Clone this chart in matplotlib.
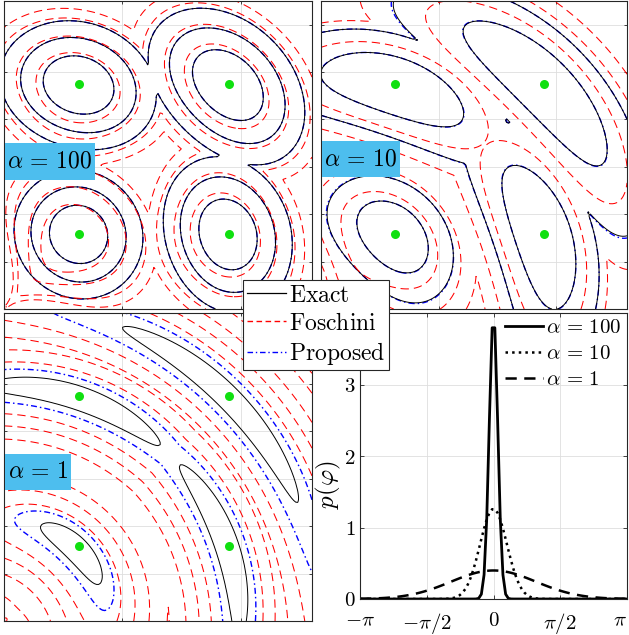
import numpy as np
import matplotlib

matplotlib.use("Agg")
import matplotlib.pyplot as plt
from matplotlib.lines import Line2D
from matplotlib.patches import Rectangle

plt.rcParams["mathtext.fontset"] = "cm"
plt.rcParams["font.family"] = "DejaVu Serif"
plt.rcParams["xtick.direction"] = "in"
plt.rcParams["ytick.direction"] = "in"

# 16-QAM (unit energy), first-quadrant points shown in the panels
qam_amp = np.array([-3, -1, 1, 3]) / np.sqrt(10)
pts_x = np.array([1, 3, 1, 3]) / np.sqrt(10)
pts_y = np.array([3, 3, 1, 1]) / np.sqrt(10)
snr_db = 15.0
alphas = [100, 10, 1]
panel_labels = [r"$\alpha\,=\,100$", r"$\alpha\,=\,10$", r"$\alpha\,=\,1$"]

# contour levels: log-likelihood relative to each point's peak
levels_exact = {100: [-2.2, -1.2, -0.45], 10: [-1.4, -0.45], 1: [-0.08]}
levels_fosch = {
    100: [-3.3, -2.55, -1.4, -0.65],
    10: [-3.0, -2.0, -0.9],
    1: [-3.6, -2.6, -1.5, -0.85, -0.42],
}
levels_prop = {100: [-2.2, -1.2, -0.45], 10: [-1.4, -0.45], 1: [-0.2]}

# phase-noise pdf panel
n_phi = 100
pdf_styles = {100: "-", 10: ":", 1: (0, (4.5, 3))}

N0 = 10 ** (-snr_db / 10)
const = (qam_amp[:, None] + 1j * qam_amp[None, :]).ravel()
g = np.linspace(0, 1.3, 151)
X, Y = np.meshgrid(g, g)
Yc = X + 1j * Y


def logp_exact(y, c, alpha):
    lim = min(np.pi, 6 / np.sqrt(alpha))
    phi = np.linspace(-lim, lim, 201)
    lw = -alpha * phi ** 2 / 2
    lw -= np.log(np.exp(lw).sum())
    r, a = abs(c), np.abs(y)
    psi = np.angle(y * np.conj(c))
    t = (2 * a[..., None] * r * np.cos(psi[..., None] - phi) - a[..., None] ** 2 - r ** 2) / N0 + lw
    m = t.max(-1)
    return m + np.log(np.exp(t - m[..., None]).sum(-1))


def logp_fosch(y, c, alpha):
    s2 = N0 / 2
    r = abs(c)
    v = 1 / alpha + s2 / r ** 2
    rho = np.maximum(np.abs(y), 1e-3)
    dth = np.angle(y * np.conj(c))
    return -(rho - r) ** 2 / (2 * s2) - dth ** 2 / (2 * v) - np.log(rho)


def logp_prop(y, c, alpha):
    z = np.abs(alpha + 2 * y * np.conj(c) / N0)
    return -(np.abs(y) ** 2 + abs(c) ** 2) / N0 + np.log(np.i0(z))


def field(fn, alpha):
    out = np.full(X.shape, -np.inf)
    for c in const:
        ray = np.linspace(0.3, 1.7, 281) * c
        peak = fn(ray, c, alpha).max()
        out = np.maximum(out, fn(Yc, c, alpha) - peak)
    return out


W, H = 629, 635
fig = plt.figure(figsize=(W / 100, H / 100), dpi=100)


def px_axes(x0, y0, x1, y1):
    return fig.add_axes([x0 / W, 1 - y1 / H, (x1 - x0) / W, (y1 - y0) / H])


def style_frame(ax):
    ax.grid(True, color=grid_col, lw=0.6)
    ax.set_axisbelow(True)
    for s in ax.spines.values():
        s.set_color(frame_col)
        s.set_linewidth(0.8)


frame_col = "#262626"
grid_col = "#dedede"
boxes = [(4, 1, 312, 309), (321, 1, 627, 309), (4, 313, 312, 621)]
label_boxes = [(5, 143, 95, 180), (322, 141, 400, 177), (5, 454, 71, 490)]
red_dash = (0, (8, 4.8))
blue_dd = (0, (4.3, 2.2, 1.1, 2.2))

for (x0, y0, x1, y1), a, lab, (bx0, by0, bx1, by1) in zip(boxes, alphas, panel_labels, label_boxes):
    ax = px_axes(x0, y0, x1, y1)
    ax.contour(X, Y, field(logp_prop, a), levels=levels_prop[a], colors="b",
               linewidths=1.0, linestyles=[blue_dd])
    ax.contour(X, Y, field(logp_exact, a), levels=levels_exact[a], colors="k",
               linewidths=0.7, linestyles="solid")
    ax.contour(X, Y, field(logp_fosch, a), levels=levels_fosch[a], colors="r",
               linewidths=0.75, linestyles=[red_dash])
    ax.plot(pts_x, pts_y, "o", color="#10e010", ms=6.5, mec="none")
    ax.set_xlim(0, 1.3)
    ax.set_ylim(0, 1.3)
    ax.set_xticks([0.5, 1.0])
    ax.set_yticks([0.2, 0.4, 0.6, 0.8, 1.0, 1.2])
    ax.set_xticklabels([])
    ax.set_yticklabels([])
    ax.tick_params(top=True, right=True, length=2.5, width=0.6, color=frame_col)
    style_frame(ax)
    fig.patches.append(Rectangle((bx0 / W, 1 - by1 / H), (bx1 - bx0) / W, (by1 - by0) / H,
                                 transform=fig.transFigure, fc="#4dbeee", ec="none", zorder=3))
    fig.text((bx0 + bx1) / 2 / W, 1 - (by0 + by1) / 2 / H, lab, ha="center", va="center",
             fontsize=17, zorder=4)

# phase-noise pdf
ax = px_axes(360, 313, 627, 599)
phi = np.linspace(-np.pi, np.pi, n_phi)
for a in alphas:
    pdf = np.sqrt(a / (2 * np.pi)) * np.exp(-a * phi ** 2 / 2)
    ax.plot(phi, pdf, color="k", lw=2.0 if a == 100 else 1.8, linestyle=pdf_styles[a],
            label=rf"$\alpha\,=\,{a}$")
ax.set_xlim(-np.pi, np.pi)
ax.set_ylim(0, 4)
ax.set_xticks([-np.pi, -np.pi / 2, 0, np.pi / 2, np.pi])
ax.set_xticklabels([r"$-\pi$", r"$-\pi/2$", r"$0$", r"$\pi/2$", r"$\pi$"])
ax.get_xticklabels()[-1].set_horizontalalignment("right")
ax.set_yticks([0, 1, 2, 3, 4])
ax.set_yticklabels(["$0$", "$1$", "$2$", "$3$", ""])
ax.tick_params(labelsize=15, top=True, right=True, length=3, width=0.6, color=frame_col, pad=3)
ax.tick_params(axis="x", pad=9)
style_frame(ax)
ax.set_ylabel(r"$p(\varphi)$", fontsize=18)
ax.yaxis.set_label_coords(-0.065, 0.4)
ax.legend(loc="upper right", frameon=False, fontsize=15, handlelength=1.85, labelspacing=0.33,
          borderaxespad=0.05, handletextpad=0.15, borderpad=0.2)

handles = [
    Line2D([], [], color="k", lw=0.9),
    Line2D([], [], color="r", lw=1.0, linestyle=(0, (4, 2.5))),
    Line2D([], [], color="b", lw=1.0, linestyle=(0, (4, 2, 1, 2))),
]
leg = fig.legend(handles, [r"$\mathrm{Exact}$", r"$\mathrm{Foschini}$", r"$\mathrm{Proposed}$"],
                 loc="upper left", bbox_to_anchor=(243 / W, 1 - 280 / H), fontsize=17,
                 handlelength=1.65, handletextpad=0.15, labelspacing=0.22, borderpad=0.15,
                 fancybox=False, framealpha=1, edgecolor=frame_col, borderaxespad=0)
leg.get_frame().set_linewidth(0.8)
leg.set_zorder(10)

fig.savefig("out.png", dpi=100)
